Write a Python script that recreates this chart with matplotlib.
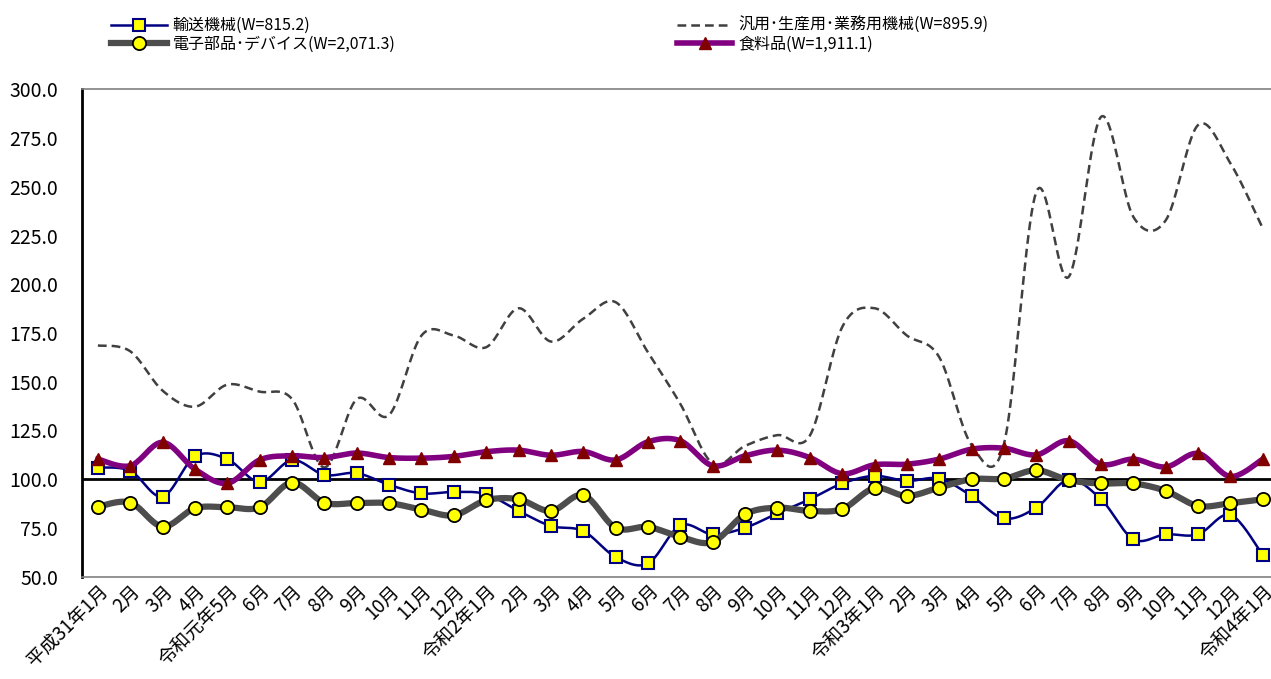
import numpy as np
import matplotlib.pyplot as plt
from matplotlib.lines import Line2D

plt.rcParams['font.family'] = ['Noto Sans CJK JP', 'DejaVu Sans']

# ------------------------------------------
# Data
# ------------------------------------------

months = ["平成31年1月", "2月", "3月", "4月", "令和元年5月", "6月", "7月", "8月",
          "9月", "10月", "11月", "12月", "令和2年1月", "2月", "3月", "4月", "5月",
          "6月", "7月", "8月", "9月", "10月", "11月", "12月", "令和3年1月", "2月",
          "3月", "4月", "5月", "6月", "7月", "8月", "9月", "10月", "11月", "12月",
          "令和4年1月"]

transport = [106.0, 104.3, 91.1, 111.7, 110.3, 98.6, 109.8, 102.2, 103.1, 97.1,
             92.7, 93.5, 92.3, 83.7, 76.0, 73.4, 60.1, 56.8, 76.3, 71.7,
             75.1, 82.5, 89.7, 97.8, 101.7, 99.1, 100.3, 91.4, 79.9, 85.4,
             99.7, 89.7, 69.2, 71.7, 71.7, 81.7, 61.1]

general = [168.6, 165.6, 145.4, 137.2, 148.5, 144.9, 141.1, 106.0, 141.1, 132.9,
           173.7, 173.7, 167.7, 187.7, 170.6, 182.3, 190.8, 165.0, 138.6, 108.1,
           117.1, 122.6, 122.3, 178.0, 187.7, 173.7, 162.6, 117.5, 118.0, 247.4,
           203.7, 285.9, 234.5, 232.8, 281.7, 262.0, 228.6]

electronic = [85.9, 88.0, 75.7, 85.1, 85.6, 85.6, 98.3, 88.0, 87.8, 87.7,
              84.4, 81.5, 89.2, 89.7, 83.7, 91.8, 75.1, 75.5, 70.4, 67.8,
              82.0, 85.4, 83.7, 84.7, 95.4, 91.4, 95.7, 100.0, 100.3, 104.6,
              99.5, 97.8, 97.8, 94.0, 86.3, 87.7, 89.7]

food = [110.3, 106.9, 118.9, 105.1, 97.9, 109.9, 112.0, 111.1, 113.4, 111.1,
        110.8, 111.7, 114.1, 114.9, 112.3, 114.2, 109.9, 119.2, 119.7, 106.9,
        112.0, 114.9, 111.1, 102.8, 107.4, 107.7, 110.3, 115.4, 115.9, 112.5,
        119.7, 107.7, 110.3, 106.3, 113.2, 101.4, 110.3]

labels = ["輸送機械(W=815.2)", "汎用･生産用･業務用機械(W=895.9)",
          "電子部品･デバイス(W=2,071.3)", "食料品(W=1,911.1)"]


# smoothed line like the spreadsheet "smooth line" option
def smooth(x, y, n=20):
    pts = np.column_stack([x, y])
    p = np.vstack([pts[0], pts, pts[-1]])
    out = []
    t = np.linspace(0, 1, n, endpoint=False)[:, None]
    for i in range(1, len(p) - 2):
        p0, p1, p2, p3 = p[i - 1], p[i], p[i + 1], p[i + 2]
        c1 = p1 + (p2 - p0) / 6
        c2 = p2 - (p3 - p1) / 6
        seg = (1 - t) ** 3 * p1 + 3 * (1 - t) ** 2 * t * c1 + 3 * (1 - t) * t ** 2 * c2 + t ** 3 * p2
        out.append(seg)
    out.append(pts[-1:])
    s = np.vstack(out)
    return s[:, 0], s[:, 1]


x = np.arange(len(months))

fig = plt.figure(figsize=(12.71, 6.79), dpi=100)
ax = fig.add_axes([0.0643, 0.1507, 0.942, 0.7178])

ax.axhline(100, color="black", linewidth=2, zorder=1)

# 汎用
sx, sy = smooth(x, general)
ax.plot(sx, sy, color="#404040", linewidth=1.8, linestyle=(0, (3.5, 2)), zorder=2)

# 輸送機械
sx, sy = smooth(x, transport)
ax.plot(sx, sy, color="#000080", linewidth=1.8, zorder=3)
ax.plot(x, transport, linestyle="none", marker="s", markersize=8,
        markerfacecolor="#ffff00", markeredgecolor="#000080", markeredgewidth=1.5, zorder=3)

# 電子部品
sx, sy = smooth(x, electronic)
ax.plot(sx, sy, color="#4d4d4d", linewidth=4.5, zorder=4)
ax.plot(x, electronic, linestyle="none", marker="o", markersize=9.5,
        markerfacecolor="#ffff00", markeredgecolor="black", markeredgewidth=1.3, zorder=4)

# 食料品
sx, sy = smooth(x, food)
ax.plot(sx, sy, color="#800080", linewidth=4, zorder=5)
ax.plot(x, food, linestyle="none", marker="^", markersize=9,
        markerfacecolor="#800000", markeredgecolor="#800000", zorder=5)

ax.set_xlim(-0.5, 36.5)
ax.set_ylim(50, 300)
ax.set_yticks(np.arange(50, 301, 25))
ax.set_yticklabels([f"{v:.1f}" for v in np.arange(50, 301, 25)], fontsize=14)
ax.set_xticks(x)
ax.set_xticklabels(months, rotation=45, ha="right", va="top",
                   rotation_mode="anchor", fontsize=13.5)
ax.tick_params(length=0)
ax.tick_params(axis="y", pad=17)
ax.tick_params(axis="x", pad=3)

ax.spines["left"].set_linewidth(2)
ax.spines["left"].set_color("black")
for s in ["top", "bottom", "right"]:
    ax.spines[s].set_color("#808080")
    ax.spines[s].set_linewidth(1.2)

# ------------------------------------------
# Legend
# ------------------------------------------

h_transport = Line2D([], [], color="#000080", linewidth=1.8, marker="s", markersize=8,
                     markerfacecolor="#ffff00", markeredgecolor="#000080", markeredgewidth=1.5)
h_general = Line2D([], [], color="#404040", linewidth=1.8, linestyle=(0, (3.5, 2)))
h_elec = Line2D([], [], color="#4d4d4d", linewidth=4.5, marker="o", markersize=9.5,
                markerfacecolor="#ffff00", markeredgecolor="black", markeredgewidth=1.3)
h_food = Line2D([], [], color="#800080", linewidth=4, marker="^", markersize=9,
                markerfacecolor="#800000", markeredgecolor="#800000")

leg1 = fig.legend([h_transport, h_elec], [labels[0], labels[2]],
                  loc="upper left", bbox_to_anchor=(0.076, 0.996), frameon=False,
                  fontsize=11.5, handlelength=3.5, numpoints=1, labelspacing=0.1,
                  handletextpad=0.35)
leg2 = fig.legend([h_general, h_food], [labels[1], labels[3]],
                  loc="upper left", bbox_to_anchor=(0.521, 0.996), frameon=False,
                  fontsize=11.5, handlelength=3.5, numpoints=1, labelspacing=0.1,
                  handletextpad=0.35)

fig.savefig("out.png", dpi=100)
